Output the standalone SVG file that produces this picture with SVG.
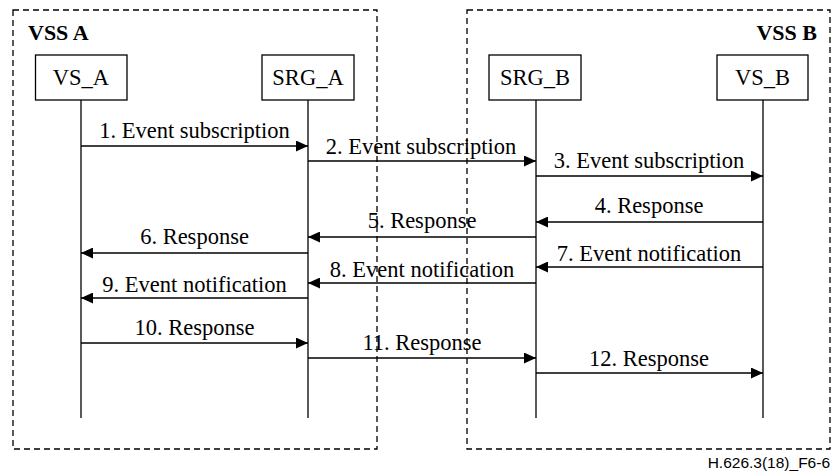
<svg xmlns="http://www.w3.org/2000/svg" width="832" height="472" viewBox="0 0 832 472">
<style>
.t{font-family:"Liberation Serif","Times New Roman",serif;font-size:22.5px;fill:#000}
.c{text-anchor:middle}
.b{font-weight:bold;font-size:22px}
.box{fill:#fff;stroke:#000;stroke-width:1.3}
.ll{stroke:#000;stroke-width:1.3;fill:none}
.dash{fill:none;stroke:#000;stroke-width:1.3;stroke-dasharray:6,4}
.m{stroke:#000;stroke-width:1.3;fill:none}
.r{marker-end:url(#ah)}
.foot{font-family:"Liberation Sans",Arial,sans-serif;font-size:15.5px;fill:#000;text-anchor:end}
</style>
<defs>
<marker id="ah" markerUnits="userSpaceOnUse" markerWidth="13" markerHeight="11" refX="12" refY="5.5" orient="auto">
<path d="M0,0 L12,5.5 L0,11 z" fill="#000"/>
</marker>
</defs>
<rect fill="#fff" x="0" y="0" width="832" height="472"/>
<g id="vssA">
<rect class="dash" x="13" y="10" width="364" height="439"/>
<text class="t b" x="28" y="40">VSS A</text>
</g>
<g id="vssB">
<rect class="dash" x="467" y="10" width="363" height="439"/>
<text class="t b" x="817" y="40" text-anchor="end">VSS B</text>
</g>
<g id="VS_A">
<line class="ll" x1="81" y1="100" x2="81" y2="418"/>
<rect class="box" x="35.5" y="55" width="91.5" height="45"/>
<text class="t c" x="81" y="85">VS_A</text>
</g>
<g id="SRG_A">
<line class="ll" x1="308" y1="100" x2="308" y2="418"/>
<rect class="box" x="262" y="55" width="92" height="45"/>
<text class="t c" x="308" y="85">SRG_A</text>
</g>
<g id="SRG_B">
<line class="ll" x1="536" y1="100" x2="536" y2="418"/>
<rect class="box" x="489" y="55" width="92" height="45"/>
<text class="t c" x="535" y="85">SRG_B</text>
</g>
<g id="VS_B">
<line class="ll" x1="763" y1="100" x2="763" y2="418"/>
<rect class="box" x="717" y="55" width="91" height="45"/>
<text class="t c" x="762.5" y="85">VS_B</text>
</g>
<g id="connectors">
<line class="m r" x1="81" y1="146" x2="308" y2="146"/>
<text class="t c" x="194.5" y="138">1. Event subscription</text>
<line class="m r" x1="308" y1="161" x2="536" y2="161"/>
<text class="t c" x="421" y="154">2. Event subscription</text>
<line class="m r" x1="536" y1="176" x2="763" y2="176"/>
<text class="t c" x="649" y="168">3. Event subscription</text>
<line class="m r" x1="763" y1="222" x2="536" y2="222"/>
<text class="t c" x="649" y="213">4. Response</text>
<line class="m r" x1="536" y1="237" x2="308" y2="237"/>
<text class="t c" x="422" y="228">5. Response</text>
<line class="m r" x1="308" y1="253" x2="81" y2="253"/>
<text class="t c" x="194.5" y="244">6. Response</text>
<line class="m r" x1="763" y1="267" x2="536" y2="267"/>
<text class="t c" x="649" y="260.5">7. Event notification</text>
<line class="m r" x1="536" y1="283" x2="308" y2="283"/>
<text class="t c" x="422" y="276.5">8. Event notification</text>
<line class="m r" x1="308" y1="298" x2="81" y2="298"/>
<text class="t c" x="194.5" y="291.5">9. Event notification</text>
<line class="m r" x1="81" y1="343" x2="308" y2="343"/>
<text class="t c" x="194.5" y="335">10. Response</text>
<line class="m r" x1="308" y1="358" x2="536" y2="358"/>
<text class="t c" x="422" y="350">11. Response</text>
<line class="m r" x1="536" y1="373" x2="763" y2="373"/>
<text class="t c" x="649" y="366">12. Response</text>
</g>
<text class="foot" x="830" y="468">H.626.3(18)_F6-6</text>
</svg>
